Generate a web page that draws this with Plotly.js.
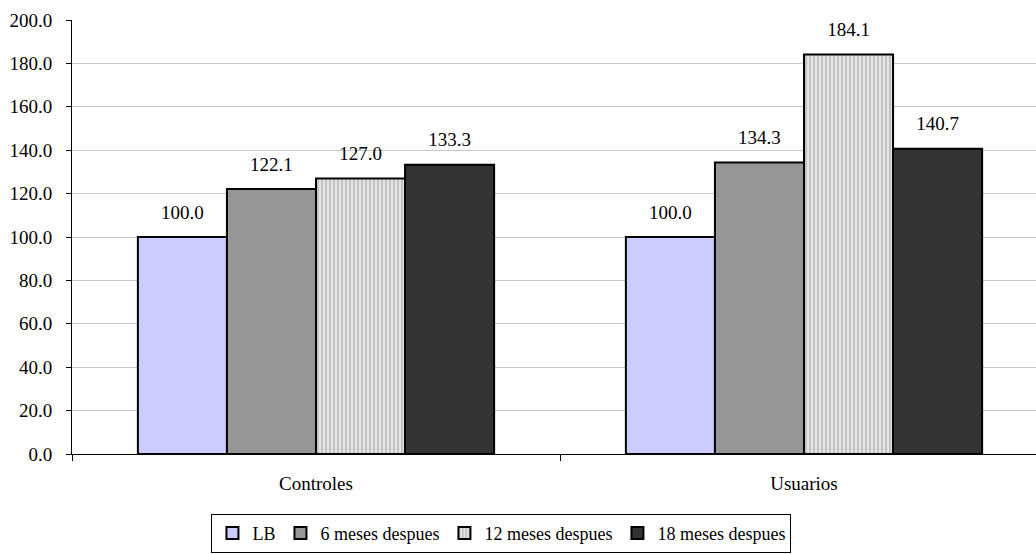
<!DOCTYPE html>
<html>
<head>
<meta charset="utf-8">
<script src="https://cdn.plot.ly/plotly-3.0.1.min.js"></script>
<style>
  html, body { margin: 0; padding: 0; background: #fff; overflow: hidden; }
  #chart { width: 1060px; height: 554px; }
</style>
</head>
<body>
<div id="chart"></div>
<script>
// Groups on the x axis
const categories = ['Controles', 'Usuarios'];

// Index values per period (LB = 100)
const lbValues = [100.0, 100.0];
const sixMonthValues = [122.1, 134.3];
const twelveMonthValues = [127.0, 184.1];
const eighteenMonthValues = [133.3, 140.7];

const seriesNames = ['LB', '6 meses despues', '12 meses despues', '18 meses despues'];

// Y axis ticks
const yTickValues = [0, 20, 40, 60, 80, 100, 120, 140, 160, 180, 200];
const yTickLabels = yTickValues.map(v => v.toFixed(1));

const FONT = '"Liberation Serif", serif';
const FONT_SIZE = 19;
const outline = { color: '#000000', width: 2 };

const GAP = 0.27;

function barTrace(name, values, marker, group) {
  return {
    type: 'bar',
    name: name,
    x: categories,
    y: values,
    offsetgroup: group,
    marker: Object.assign({ line: outline }, marker),
    hoverinfo: 'x+y+name'
  };
}

// Value labels, grouped the same way as the bars so each sits over its bar
function labelTrace(values, group) {
  return {
    type: 'scatter',
    mode: 'markers+text',
    x: categories,
    y: values,
    offsetgroup: group,
    text: values.map(v => v.toFixed(1)),
    textposition: 'top center',
    cliponaxis: false,
    textfont: { family: FONT, size: FONT_SIZE, color: '#000000' },
    marker: { size: 20, color: 'rgba(0,0,0,0)' },
    showlegend: false,
    hoverinfo: 'skip'
  };
}

const allValues = [lbValues, sixMonthValues, twelveMonthValues, eighteenMonthValues];

const data = [
  barTrace(seriesNames[0], lbValues, { color: '#ccccff' }, 'g0'),
  barTrace(seriesNames[1], sixMonthValues, { color: '#969696' }, 'g1'),
  barTrace(seriesNames[2], twelveMonthValues, {
    color: '#e4e4e4',
    pattern: { shape: '|', fgcolor: '#b4b4b4', bgcolor: '#e4e4e4', size: 4, solidity: 0.35 }
  }, 'g2'),
  barTrace(seriesNames[3], eighteenMonthValues, { color: '#333333' }, 'g3')
].concat(allValues.map((vals, i) => labelTrace(vals, 'g' + i)));

const layout = {
  width: 1060,
  height: 554,
  margin: { l: 72, r: 12, t: 20, b: 100, autoexpand: false },
  paper_bgcolor: '#ffffff',
  plot_bgcolor: '#ffffff',
  font: { family: FONT, size: FONT_SIZE, color: '#000000' },
  barmode: 'group',
  bargap: GAP,
  bargroupgap: 0,
  scattermode: 'group',
  scattergap: GAP,
  showlegend: true,
  legend: {
    orientation: 'h',
    x: 0.44,
    xanchor: 'center',
    y: -0.138,
    yanchor: 'top',
    bordercolor: '#000000',
    borderwidth: 1,
    font: { family: FONT, size: 18, color: '#000000' },
    itemwidth: 30,
    tracegroupgap: 0
  },
  xaxis: {
    type: 'category',
    tickson: 'boundaries',
    ticks: 'outside',
    ticklen: 6,
    tickcolor: '#000000',
    showline: true,
    linecolor: '#000000',
    linewidth: 1,
    showgrid: false,
    tickfont: { family: FONT, size: FONT_SIZE, color: '#000000' },
    ticklabelstandoff: 12,
    zeroline: false
  },
  yaxis: {
    range: [0, 200],
    tickvals: yTickValues,
    ticktext: yTickLabels,
    ticks: 'outside',
    ticklen: 5,
    tickcolor: '#000000',
    showline: true,
    linecolor: '#000000',
    linewidth: 1,
    showgrid: true,
    gridcolor: '#c8c8c8',
    gridwidth: 1,
    zeroline: false,
    tickfont: { family: FONT, size: FONT_SIZE, color: '#000000' },
    ticklabelstandoff: 10
  }
};

Plotly.newPlot('chart', data, layout, { displayModeBar: false, staticPlot: true });
</script>
</body>
</html>
